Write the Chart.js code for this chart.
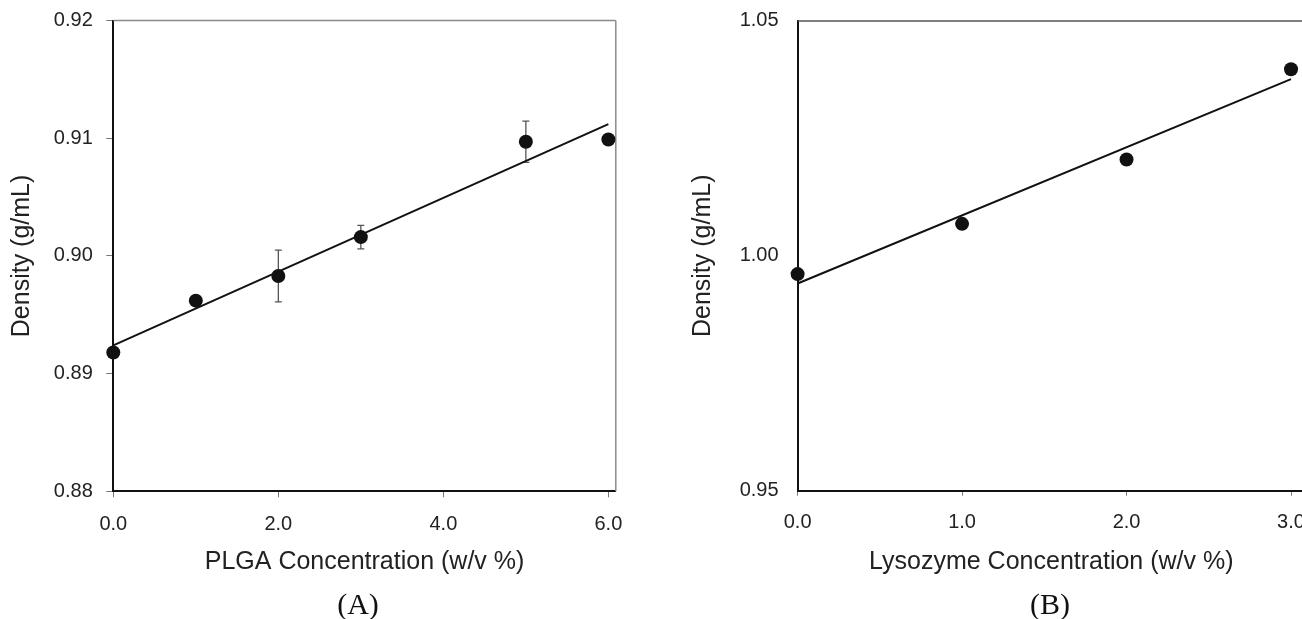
<!DOCTYPE html>
<html><head><meta charset="utf-8">
<script src="https://cdn.jsdelivr.net/npm/chart.js@4.4.1/dist/chart.umd.min.js"></script>
<style>
html,body{margin:0;padding:0;width:1302px;height:619px;overflow:hidden;background:#fff;}
#wa{position:absolute;left:0;top:0;width:650px;height:619px;}
#wb{position:absolute;left:650px;top:0;width:680px;height:619px;}
.lbl{position:absolute;font-family:'Liberation Serif','Times New Roman',serif;font-size:30px;color:#111;transform:translateX(-50%);white-space:nowrap;line-height:1;}
</style></head><body>
<div id="wa"><canvas id="ca"></canvas></div>
<div id="wb"><canvas id="cb"></canvas></div>
<div class="lbl" style="left:358px;top:589px">(A)</div>
<div class="lbl" style="left:1050px;top:589px">(B)</div>
<script>
// ---- Panel A: PLGA ----
const plgaConc = [0, 1, 2, 3, 5, 6];
const plgaDensity = [0.8918, 0.8962, 0.8983, 0.9016, 0.9097, 0.9099];
const plgaError = [0, 0, 0.0022, 0.0010, 0.00175, 0];
const plgaFitX = [0, 6];
const plgaFitY = [0.8924, 0.9112];
const plgaXTicks = [0, 2, 4, 6];
const plgaYTicks = [0.88, 0.89, 0.90, 0.91, 0.92];

// ---- Panel B: Lysozyme ----
const lysoConc = [0, 1, 2, 3];
const lysoDensity = [0.9961, 1.0068, 1.0205, 1.0397];
const lysoFitX = [0, 3];
const lysoFitY = [0.9941, 1.0376];
const lysoXTicks = [0, 1, 2, 3];
const lysoYTicks = [0.95, 1.00, 1.05];

const FONT = "'Liberation Sans', Arial, Helvetica, sans-serif";

const errorBars = {
  id: 'errorBars',
  beforeDatasetsDraw(chart, args, opts) {
    const errs = opts.errors; if (!errs) return;
    const {ctx, scales: {x, y}} = chart;
    const pts = chart.data.datasets[0].data;
    ctx.save(); ctx.strokeStyle = '#555'; ctx.lineWidth = 1.3;
    pts.forEach((p, i) => {
      const e = errs[i]; if (!e) return;
      const px = x.getPixelForValue(p.x);
      const y1 = y.getPixelForValue(p.y + e), y2 = y.getPixelForValue(p.y - e);
      ctx.beginPath();
      ctx.moveTo(px, y1); ctx.lineTo(px, y2);
      ctx.moveTo(px - 3.5, y1); ctx.lineTo(px + 3.5, y1);
      ctx.moveTo(px - 3.5, y2); ctx.lineTo(px + 3.5, y2);
      ctx.stroke();
    });
    ctx.restore();
  }
};

const frame = {
  id: 'frame',
  beforeDatasetsDraw(chart, args, opts) {
    const {ctx, chartArea: a} = chart;
    ctx.save(); ctx.strokeStyle = opts.color || '#888'; ctx.lineWidth = 1.5;
    ctx.beginPath();
    ctx.moveTo(a.left, a.top); ctx.lineTo(a.right, a.top);
    ctx.moveTo(a.right, a.top); ctx.lineTo(a.right, a.bottom);
    ctx.stroke(); ctx.restore();
  }
};

function makeChart(id, c) {
  const pts = c.xs.map((v, i) => ({x: v, y: c.ys[i]}));
  const fit = c.fx.map((v, i) => ({x: v, y: c.fy[i]}));
  return new Chart(document.getElementById(id), {
    type: 'scatter',
    data: {
      datasets: [
        {data: pts, pointRadius: 7, pointHoverRadius: 7, backgroundColor: '#111', borderColor: '#111', borderWidth: 0, showLine: false, clip: false, order: 1},
        {type: 'line', data: fit, pointRadius: 0, borderColor: '#111', borderWidth: 2, fill: false, tension: 0, clip: false, order: 2}
      ]
    },
    options: {
      responsive: true, maintainAspectRatio: false, animation: false,
      layout: {padding: {left: 0, top: c.padTop, right: c.padRight, bottom: 0}},
      plugins: {legend: {display: false}, tooltip: {enabled: false},
        errorBars: {errors: c.err}, frame: {color: c.frameColor}},
      scales: {
        x: {
          type: 'linear', min: 0, max: c.xMax,
          afterBuildTicks: s => { s.ticks = c.xTicks.map(v => ({value: v})); },
          afterFit: s => { s.height = c.xHeight; s.paddingLeft = 0; s.paddingRight = 0; },
          ticks: {font: {family: FONT, size: 20}, color: '#222', padding: 15, maxRotation: 0, autoSkip: false,
                  callback: v => Number(v).toFixed(1)},
          grid: {display: true, drawOnChartArea: false, drawTicks: true, tickLength: c.xTickLen, color: '#777', lineWidth: 1},
          border: {display: true, color: '#111', width: 2},
          title: {display: true, text: c.xTitle, font: {family: FONT, size: 25}, color: '#222', padding: {top: 0, bottom: 42}}
        },
        y: {
          type: 'linear', min: c.yMin, max: c.yMax,
          afterBuildTicks: s => { s.ticks = c.yTicks.map(v => ({value: v})); },
          afterFit: s => { s.width = c.yWidth; s.paddingTop = 0; s.paddingBottom = 0; },
          ticks: {font: {family: FONT, size: 20}, color: '#222', padding: c.yPad, autoSkip: false,
                  callback: v => Number(v).toFixed(2)},
          grid: c.yTickLen ? {display: true, drawOnChartArea: false, drawTicks: true, tickLength: c.yTickLen, color: '#777', lineWidth: 1}
                           : {display: false, drawTicks: false},
          border: {display: true, color: '#111', width: 2},
          title: {display: true, text: 'Density (g/mL)', font: {family: FONT, size: 25}, color: '#222', padding: {top: c.yTitlePad, bottom: 0}}
        }
      }
    },
    plugins: [errorBars, frame]
  });
}

makeChart('ca', {
  xs: plgaConc, ys: plgaDensity, err: plgaError, fx: plgaFitX, fy: plgaFitY,
  xTicks: plgaXTicks, yTicks: plgaYTicks, xMax: 6.09, yMin: 0.88, yMax: 0.92,
  xTitle: 'PLGA Concentration (w/v %)', padTop: 20.6, padRight: 34.2,
  xHeight: 127.7, yWidth: 113.3, xTickLen: 6, yTickLen: 7, yPad: 13.5, yTitlePad: 7, frameColor: '#8a8a8a'
});

makeChart('cb', {
  xs: lysoConc, ys: lysoDensity, err: null, fx: lysoFitX, fy: lysoFitY,
  xTicks: lysoXTicks, yTicks: lysoYTicks, xMax: 3.085, yMin: 0.95, yMax: 1.05,
  xTitle: 'Lysozyme Concentration (w/v %)', padTop: 20.9, padRight: 25,
  xHeight: 128.3, yWidth: 147.6, xTickLen: 5, yTickLen: 0, yPad: 19, yTitlePad: 38.5, frameColor: '#555'
});
</script>
</body></html>
